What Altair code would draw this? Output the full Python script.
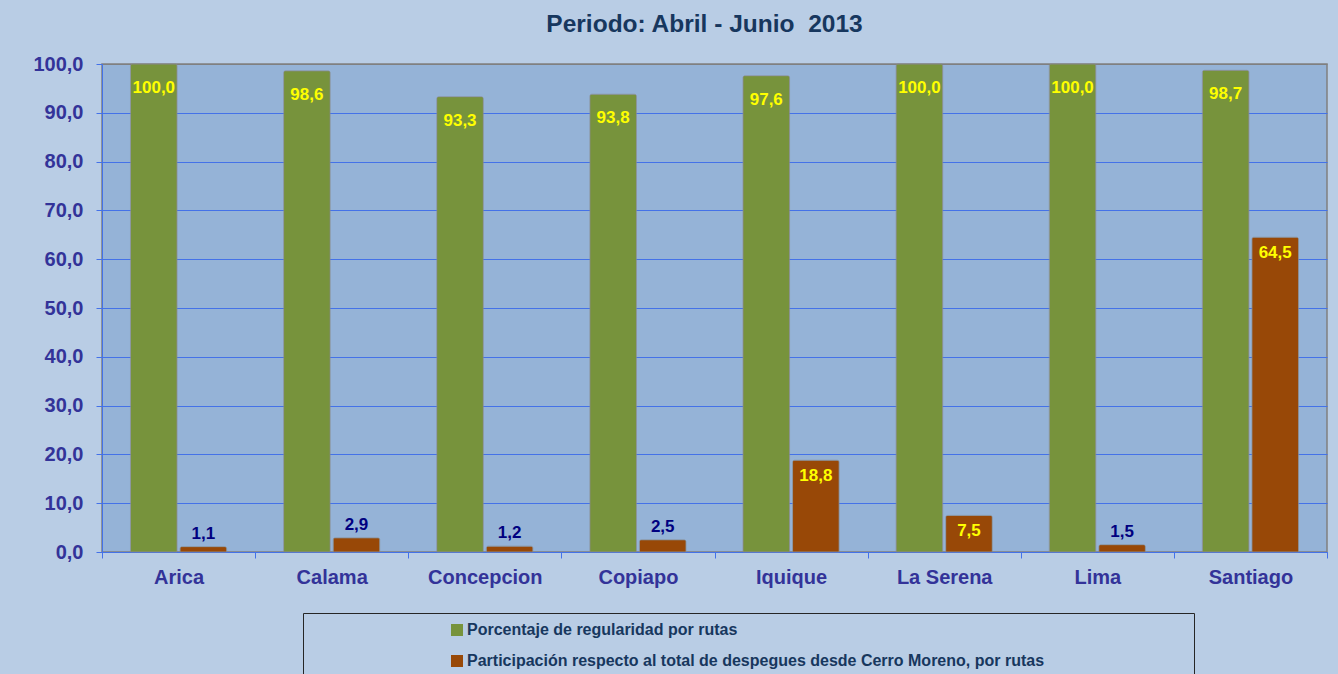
import altair as alt
import pandas as pd

categories = ["Arica", "Calama", "Concepcion", "Copiapo", "Iquique", "La Serena", "Lima", "Santiago"]
regularidad = [100.0, 98.6, 93.3, 93.8, 97.6, 100.0, 100.0, 98.7]
participacion = [1.1, 2.9, 1.2, 2.5, 18.8, 7.5, 1.5, 64.5]
series = [
    "Porcentaje de regularidad por rutas",
    "Participación respecto al total de despegues desde Cerro Moreno, por rutas",
]
y_ticks = [0, 10, 20, 30, 40, 50, 60, 70, 80, 90, 100]
title_text = "Periodo: Abril - Junio\u00a0 2013"

rows = []
for c, r, p in zip(categories, regularidad, participacion):
    rows.append({"ruta": c, "serie": series[0], "valor": r})
    rows.append({"ruta": c, "serie": series[1], "valor": p})
df = pd.DataFrame(rows)

FONT = "Liberation Sans"
NARROW = "Liberation Sans Narrow, Arial Narrow, Liberation Sans"
BLUE = "#4472e8"
LABEL = "#333399"

x = alt.X(
    "ruta:N",
    sort=categories,
    scale=alt.Scale(paddingInner=0, paddingOuter=0),
    axis=alt.Axis(
        title=None, labelAngle=0, tickBand="extent", grid=False,
        domainColor=BLUE, tickColor=BLUE, tickSize=6,
        labelFont=FONT, labelFontSize=20, labelFontWeight="bold",
        labelColor=LABEL, labelPadding=9,
    ),
)
xoff = alt.XOffset("serie:N", sort=series,
                   scale=alt.Scale(domain=series, paddingInner=0.06, paddingOuter=0.575))
y = alt.Y(
    "valor:Q",
    scale=alt.Scale(domain=[0, 100], nice=False),
    axis=alt.Axis(
        title=None, values=y_ticks,
        labelExpr="replace(format(datum.value, '.1f'), '.', ',')",
        grid=True,
        gridColor={"condition": {"test": "datum.value == 100", "value": "#808080"}, "value": BLUE},
        domainColor=BLUE, tickColor=BLUE, tickSize=6,
        labelFont=FONT, labelFontSize=20, labelFontWeight="bold",
        labelColor=LABEL, labelPadding=13,
    ),
)
color = alt.Color(
    "serie:N",
    sort=series,
    scale=alt.Scale(domain=series, range=["#77933c", "#984807"]),
    legend=alt.Legend(
        orient="none", legendX=201, legendY=549, padding=9,
        strokeColor="#262626", symbolType="square", symbolSize=144,
        symbolStrokeWidth=0, symbolOffset=137,
        labelFont=NARROW, labelFontSize=16, labelFontWeight="bold",
        labelColor="#17375e", labelLimit=1000, rowPadding=15, labelOffset=2,
        title=".", titleOrient="right", titleOpacity=0, titlePadding=137,
    ),
)

base = alt.Chart(df).transform_calculate(
    etiqueta="replace(format(datum.valor, '.1f'), '.', ',')"
)

bars = base.mark_bar(cornerRadiusTopLeft=2, cornerRadiusTopRight=2,
                     stroke="#8a8a8a", strokeOpacity=0.6, strokeWidth=1).encode(
    x=x, xOffset=xoff, y=y, color=color
)

txt_green = base.transform_filter(alt.datum.serie == series[0]).mark_text(
    font=FONT, fontSize=17, fontWeight="bold", color="#ffff00", dy=24, baseline="middle"
).encode(x=x, xOffset=xoff, y=y, text="etiqueta:N")

txt_orange_in = base.transform_filter(
    (alt.datum.serie == series[1]) & (alt.datum.valor > 5)
).mark_text(
    font=FONT, fontSize=17, fontWeight="bold", color="#ffff00", dy=16, baseline="middle"
).encode(x=x, xOffset=xoff, y=y, text="etiqueta:N")

txt_orange_out = base.transform_filter(
    (alt.datum.serie == series[1]) & (alt.datum.valor <= 5)
).mark_text(
    font=FONT, fontSize=17, fontWeight="bold", color="#000080", dy=-13, baseline="middle"
).encode(x=x, xOffset=xoff, y=y, text="etiqueta:N")

chart = alt.layer(bars, txt_green, txt_orange_in, txt_orange_out).properties(
    width=1225,
    height=488,
    title=alt.TitleParams(
        text=title_text, font=FONT, fontSize=24.5, fontWeight="bold",
        color="#17375e", anchor="middle", offset=17, dx=-10,
    ),
    autosize=alt.AutoSizeParams(type="none"),
    padding={"left": 102, "top": 64, "right": 11, "bottom": 122},
).configure(background="#b9cde5").configure_view(
    fill="#95b3d7", stroke="#808080", strokeWidth=1.5
)

chart.save("out.html", embed_options={"renderer": "svg", "actions": False})
